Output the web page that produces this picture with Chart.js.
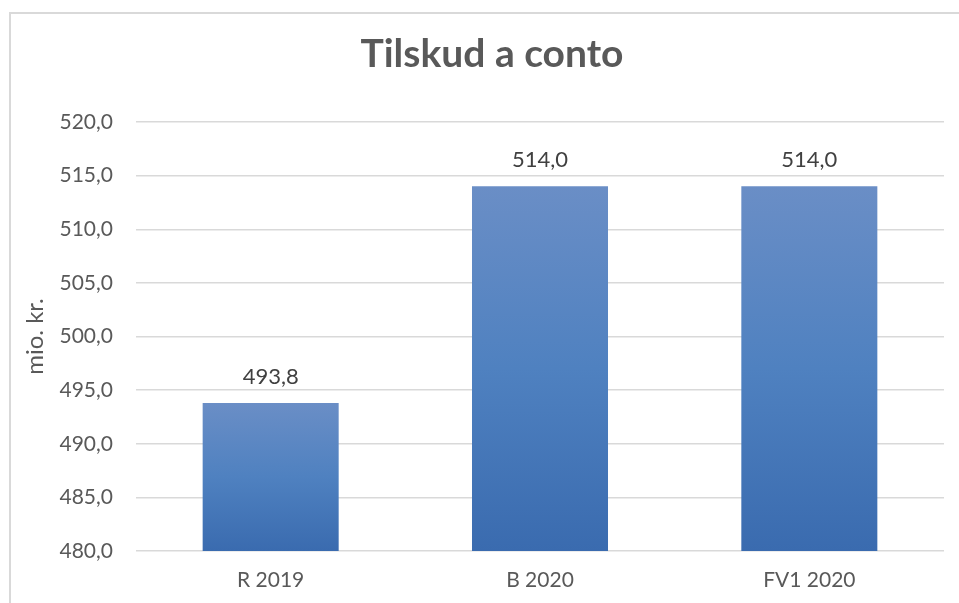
<!DOCTYPE html>
<html>
<head>
<meta charset="utf-8">
<script src="https://cdn.jsdelivr.net/npm/chart.js@4"></script>
<style>
  html, body { margin: 0; padding: 0; background: #fff; overflow: hidden; }
  #frame { position: absolute; left: 9px; top: 12px; width: 1000px; height: 700px;
           border-left: 2px solid #d9d9d9; border-top: 2px solid #d9d9d9; }
  #wrap { position: absolute; left: 0; top: 0; width: 959px; height: 603px; }
</style>
</head>
<body>
<div id="frame"></div>
<div id="wrap"><canvas id="myChart"></canvas></div>
<script>
const titleText = 'Tilskud a conto';
const yTitle = 'mio. kr.';
const categories = ['R 2019', 'B 2020', 'FV1 2020'];
const values = [493.8, 514.0, 514.0];
const yMin = 480;
const yMax = 520;
const yStep = 5;

const fmt = v => Number(v).toFixed(1).replace('.', ',');

// gradient per bar, light at the top and darker at the bottom
function barGradient(context) {
    const chart = context.chart;
    const { ctx, chartArea, scales } = chart;
    if (!chartArea || context.dataIndex === undefined) return '#4f81bd';
    const top = scales.y.getPixelForValue(values[context.dataIndex]);
    const bottom = scales.y.getPixelForValue(yMin);
    const g = ctx.createLinearGradient(0, top, 0, bottom);
    g.addColorStop(0, '#6a8ec6');
    g.addColorStop(0.5, '#4f81c0');
    g.addColorStop(1, '#3a6baf');
    return g;
}

const valueLabels = {
    id: 'valueLabels',
    afterDatasetsDraw(chart) {
        const ctx = chart.ctx;
        ctx.save();
        ctx.font = '22px Lato';
        ctx.fillStyle = '#404040';
        ctx.textAlign = 'center';
        ctx.textBaseline = 'alphabetic';
        chart.getDatasetMeta(0).data.forEach((bar, i) => {
            ctx.fillText(fmt(values[i]), bar.x, bar.y - 19);
        });
        ctx.restore();
    }
};

// title centred on the whole chart frame, not just the plot
const frameTitle = {
    id: 'frameTitle',
    afterDraw(chart) {
        const ctx = chart.ctx;
        ctx.save();
        ctx.font = 'bold 39px Lato';
        ctx.fillStyle = '#595959';
        ctx.textAlign = 'center';
        ctx.textBaseline = 'alphabetic';
        ctx.fillText(titleText, 492, 67);
        ctx.restore();
    }
};

const ctx = document.getElementById('myChart').getContext('2d');
new Chart(ctx, {
    type: 'bar',
    data: {
        labels: categories,
        datasets: [{
            data: values,
            backgroundColor: barGradient,
            borderWidth: 0,
            categoryPercentage: 1,
            barPercentage: 0.505
        }]
    },
    options: {
        responsive: true,
        maintainAspectRatio: false,
        animation: false,
        layout: { padding: { left: 21, right: 15, top: 122, bottom: 0 } },
        plugins: {
            legend: { display: false },
            tooltip: { enabled: false },
            title: { display: false }
        },
        scales: {
            x: {
                grid: { display: false, drawTicks: false },
                border: { display: false },
                ticks: { color: '#595959', font: { family: 'Lato', size: 21 }, padding: 17 },
                afterFit(scale) { scale.height = 52; }
            },
            y: {
                min: yMin,
                max: yMax,
                ticks: {
                    stepSize: yStep,
                    color: '#595959',
                    font: { family: 'Lato', size: 21 },
                    padding: 23,
                    callback: v => fmt(v)
                },
                grid: { color: '#d9d9d9', lineWidth: 1.5, drawTicks: false },
                border: { display: false },
                title: {
                    display: true,
                    text: yTitle,
                    color: '#595959',
                    font: { family: 'Lato', size: 24 },
                    padding: { top: 0, bottom: 0 }
                },
                afterFit(scale) { scale.width = 115; }
            }
        }
    },
    plugins: [valueLabels, frameTitle]
});
</script>
</body>
</html>
